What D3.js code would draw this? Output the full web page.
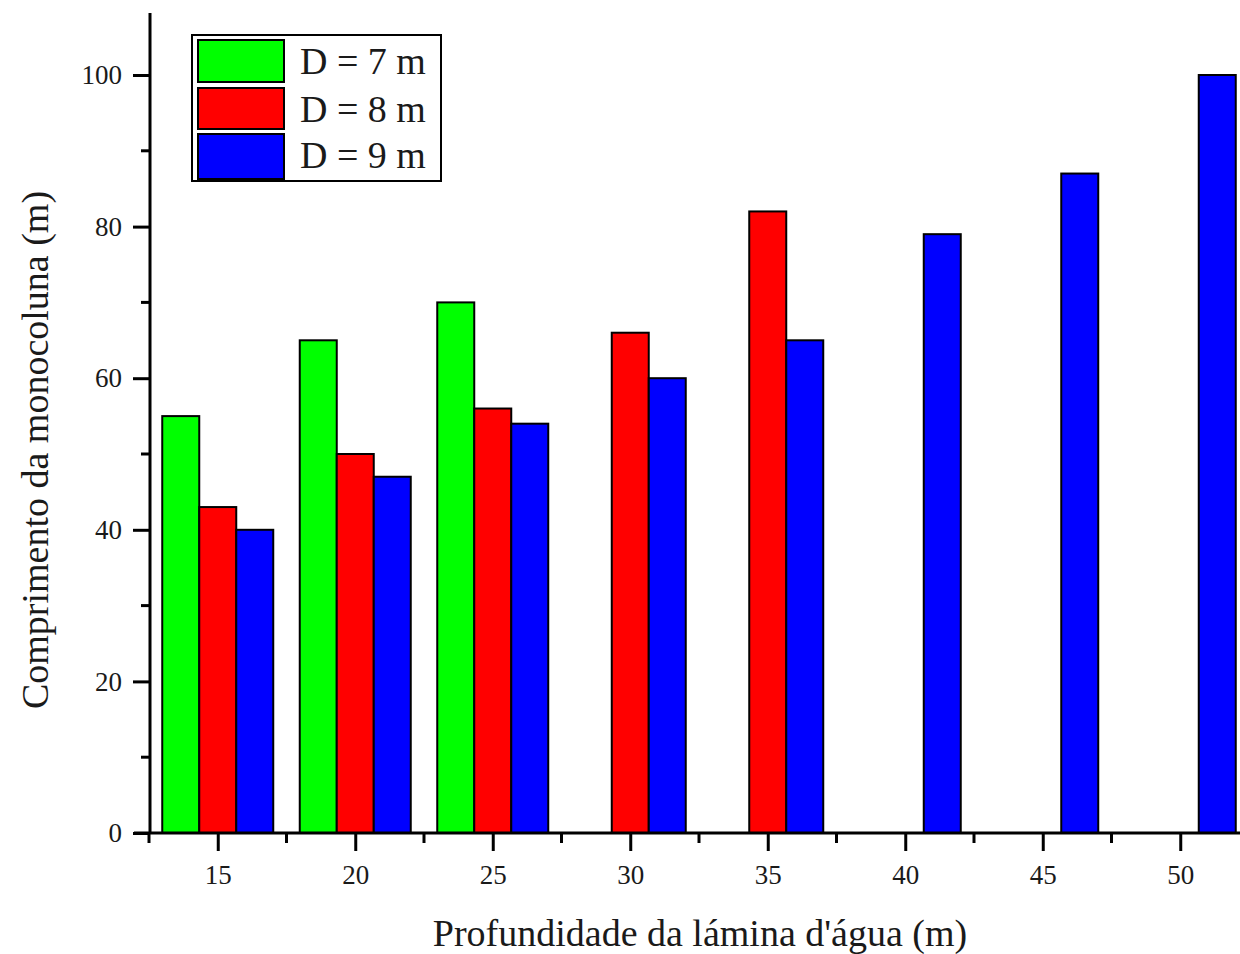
<!DOCTYPE html>
<html>
<head>
<meta charset="utf-8">
<script src="https://cdn.jsdelivr.net/npm/d3@7"></script>
<style>
  body { margin: 0; background: #fff; }
  text { font-family: "Liberation Serif", "DejaVu Serif", serif; fill: #1a1a1a; }
</style>
</head>
<body>
<div id="chart"></div>
<script>
// data
let depths = [15, 20, 25, 30, 35, 40, 45, 50];
let seriesNames = ["D = 7 m", "D = 8 m", "D = 9 m"];
let seriesColors = ["#00ff00", "#ff0000", "#0000ff"];
let d7 = [55, 65, 70, null, null, null, null, null];
let d8 = [43, 50, 56, 66, 82, null, null, null];
let d9 = [40, 47, 54, 60, 65, 79, 87, 100];
let yTicks = [0, 20, 40, 60, 80, 100];

let svgWidth = 1240;
let svgHeight = 954;

let svg = d3.select("#chart")
    .append("svg")
    .attr("width", svgWidth)
    .attr("height", svgHeight);

svg.append("rect").attr("width", svgWidth).attr("height", svgHeight).attr("fill", "#fff");

// scales
let xScale = d3.scaleLinear()
    .domain([12.5, 52.5])
    .range([149, 1249]);

let yScale = d3.scaleLinear()
    .domain([0, 100])
    .range([833, 75]);

let seriesScale = d3.scaleBand()
    .domain(d3.range(seriesNames.length))
    .range([-55.5, 55.5]);

let allSeries = [d7, d8, d9];
let barData = [];
allSeries.forEach(function(vals, si) {
    vals.forEach(function(v, ci) {
        if (v != null) barData.push({ s: si, depth: depths[ci], value: v });
    });
});

// bars
svg.append("g")
    .selectAll("rect")
    .data(barData)
    .enter()
    .append("rect")
    .attr("x", d => xScale(d.depth) + seriesScale(d.s))
    .attr("y", d => yScale(d.value))
    .attr("width", seriesScale.bandwidth())
    .attr("height", d => yScale(0) - yScale(d.value))
    .attr("fill", d => seriesColors[d.s])
    .attr("stroke", "#000")
    .attr("stroke-width", 2);

// y axis
let yAxis = d3.axisLeft(yScale)
    .tickValues(yTicks)
    .tickSize(17)
    .tickSizeOuter(0)
    .tickPadding(11);

let yG = svg.append("g")
    .attr("transform", "translate(150,0)")
    .attr("font-family", null)
    .call(yAxis);
yG.select(".domain").remove();
yG.selectAll(".tick line").attr("stroke", "#000").attr("stroke-width", 3);
yG.selectAll(".tick text")
    .style("font-family", "'Liberation Serif', serif")
    .style("font-size", "27px");

// y minor ticks
svg.append("g")
    .selectAll("line")
    .data(d3.range(10, 110, 20))
    .enter()
    .append("line")
    .attr("x1", 141).attr("x2", 150)
    .attr("y1", d => yScale(d)).attr("y2", d => yScale(d))
    .attr("stroke", "#000").attr("stroke-width", 3);

svg.append("line")
    .attr("x1", 150).attr("x2", 150)
    .attr("y1", 13).attr("y2", 834)
    .attr("stroke", "#000").attr("stroke-width", 3);

// x axis
let xAxis = d3.axisBottom(xScale)
    .tickValues(depths)
    .tickFormat(d3.format("d"))
    .tickSize(18)
    .tickSizeOuter(0)
    .tickPadding(14);

let xG = svg.append("g")
    .attr("transform", "translate(0,833)")
    .call(xAxis);
xG.select(".domain").remove();
xG.selectAll(".tick line").attr("stroke", "#000").attr("stroke-width", 3);
xG.selectAll(".tick text")
    .style("font-family", "'Liberation Serif', serif")
    .style("font-size", "27px");

svg.append("g")
    .selectAll("line")
    .data(d3.range(12.5, 52.5, 5))
    .enter()
    .append("line")
    .attr("x1", d => xScale(d)).attr("x2", d => xScale(d))
    .attr("y1", 833).attr("y2", 843)
    .attr("stroke", "#000").attr("stroke-width", 3);

svg.append("line")
    .attr("x1", 134).attr("x2", 1240)
    .attr("y1", 833).attr("y2", 833)
    .attr("stroke", "#000").attr("stroke-width", 3);

// axis titles
svg.append("text")
    .attr("transform", "translate(48,450) rotate(-90)")
    .attr("text-anchor", "middle")
    .style("font-size", "38px")
    .text("Comprimento da monocoluna (m)");

svg.append("text")
    .attr("x", 700)
    .attr("y", 946)
    .attr("text-anchor", "middle")
    .style("font-size", "38px")
    .text("Profundidade da lámina d'água (m)");

// legend
let legend = svg.append("g");
legend.append("rect")
    .attr("x", 192).attr("y", 35)
    .attr("width", 249).attr("height", 146)
    .attr("fill", "#fff").attr("stroke", "#000").attr("stroke-width", 2);

let rowY = [40, 88, 134];
let rowH = [42, 41, 45];
seriesNames.forEach(function(name, i) {
    legend.append("rect")
        .attr("x", 198).attr("y", rowY[i])
        .attr("width", 86).attr("height", rowH[i])
        .attr("fill", seriesColors[i])
        .attr("stroke", "#000").attr("stroke-width", 2);
    legend.append("text")
        .attr("x", 300).attr("y", rowY[i] + 34)
        .style("font-size", "38px")
        .text(name);
});
</script>
</body>
</html>
